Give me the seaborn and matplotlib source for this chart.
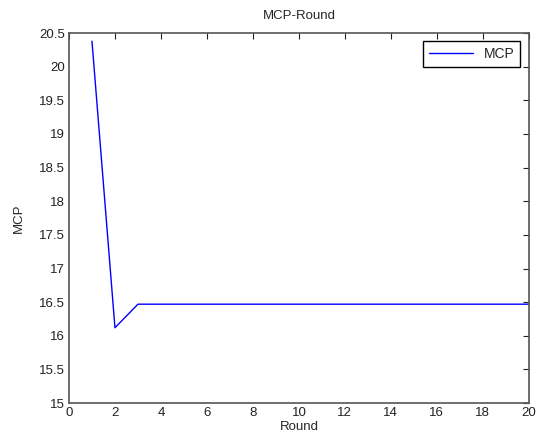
import numpy as np
import matplotlib
matplotlib.use('Agg')
import matplotlib.pyplot as plt
import pandas as pd
import seaborn as sns

# данные
rounds = list(range(1, 21))
mcp = [20.38, 16.12] + [16.47] * 18

df = pd.DataFrame({'Round': rounds, 'MCP': mcp})

sns.set_style('white')
plt.rcParams['font.family'] = ['Liberation Sans', 'DejaVu Sans']

fig = plt.figure(figsize=(5.41, 4.41), dpi=100)
ax = fig.add_axes([0.1275, 0.086, 0.85, 0.839])

sns.lineplot(data=df, x='Round', y='MCP', ax=ax, color='#0000ff', lw=1, label='MCP')

ax.set_xlim(0, 20)
ax.set_ylim(15, 20.5)
ax.set_xticks(np.arange(0, 21, 2))
ax.set_yticks(np.arange(15, 20.6, 0.5))
ax.set_yticklabels(['15', '15.5', '16', '16.5', '17', '17.5', '18', '18.5', '19', '19.5', '20', '20.5'])
ax.tick_params(direction='in', top=True, right=True, length=4, width=0.8,
               labelsize=9.5, colors='#222222', pad=3)
for s in ax.spines.values():
    s.set_color('#555555')
    s.set_linewidth(1.2)

ax.set_title('MCP-Round', fontsize=9.5, pad=10)
ax.set_xlabel('Round', fontsize=9.5, labelpad=1)
ax.set_ylabel('MCP', fontsize=9.5, labelpad=10)

leg = ax.legend(loc='upper right', fontsize=10, fancybox=False, framealpha=1,
                edgecolor='black', borderaxespad=0.6, handlelength=3.2)
leg.get_frame().set_linewidth(1)

fig.savefig('out.png', dpi=100)
